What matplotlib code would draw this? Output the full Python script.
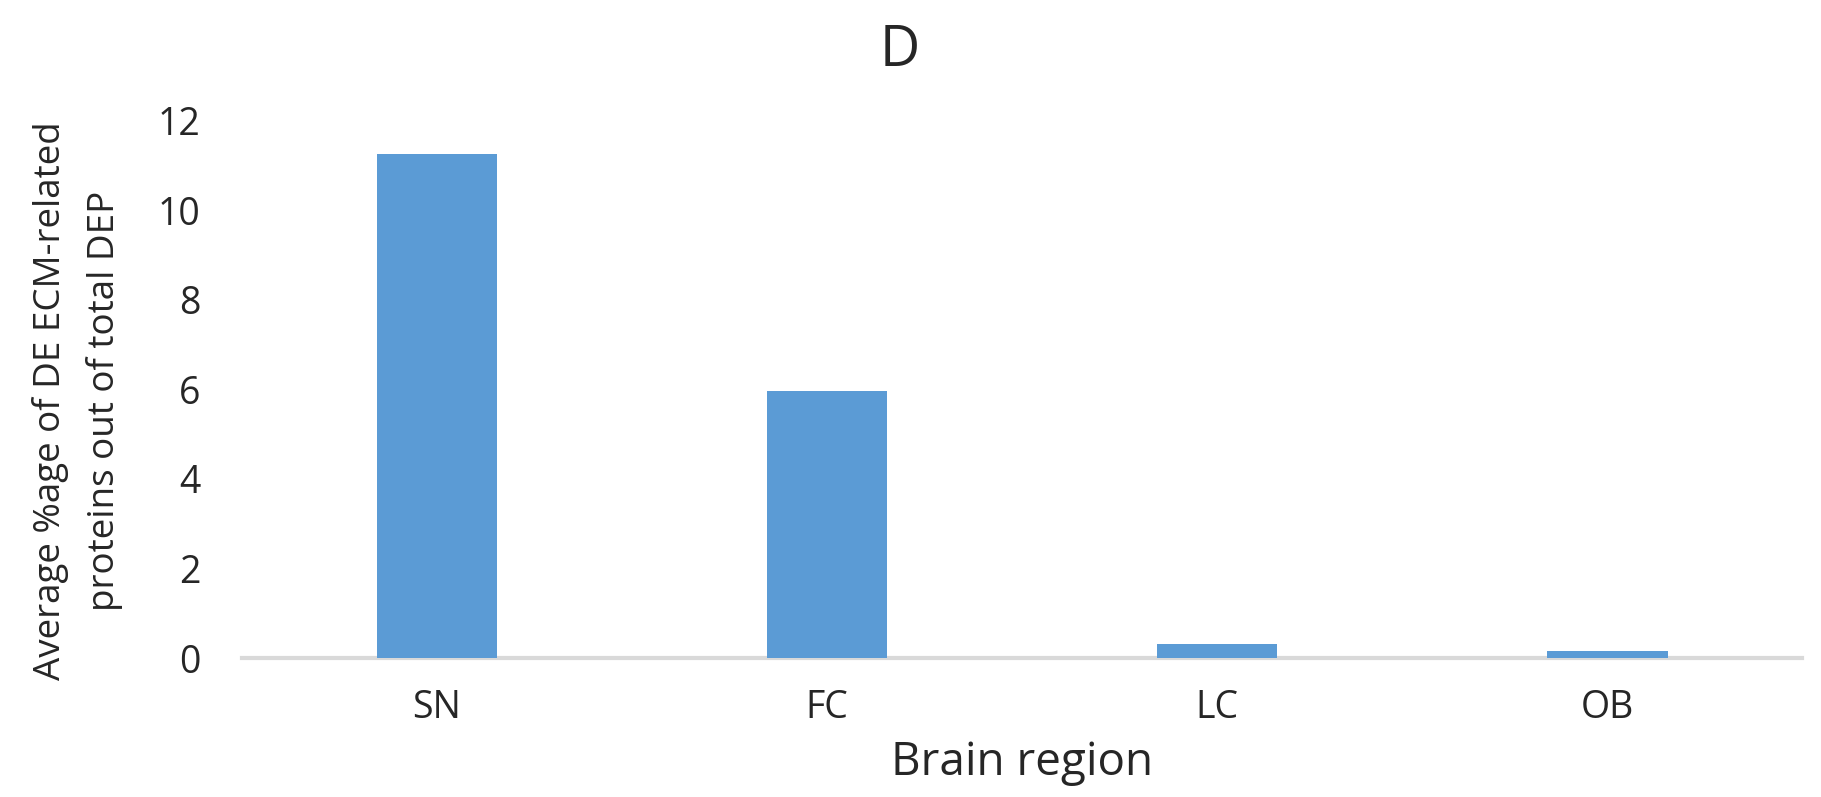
import matplotlib
matplotlib.use("Agg")
import matplotlib.pyplot as plt
import numpy as np

# --- data ---
regions = ["SN", "FC", "LC", "OB"]
avg_pct = [11.26, 5.97, 0.31, 0.16]
y_ticks = [0, 2, 4, 6, 8, 10, 12]

bar_color = "#5B9BD5"
axis_gray = "#D9D9D9"
text_col = "#262626"

plt.rcParams["font.family"] = ["Open Sans", "DejaVu Sans"]

fig = plt.figure(figsize=(18.21, 7.97), dpi=100)
ax = fig.add_axes([0.1329, 0.1744, 0.8567, 0.6738])

x = np.arange(len(regions))
ax.bar(x, avg_pct, width=0.31, color=bar_color, zorder=3)

ax.set_xlim(-0.5, len(regions) - 0.5)
ax.set_ylim(0, 12)
ax.set_yticks(y_ticks)
ax.set_xticks(x)
ax.set_xticklabels(regions)

for side in ["top", "right", "left"]:
    ax.spines[side].set_visible(False)
ax.spines["bottom"].set_color(axis_gray)
ax.spines["bottom"].set_linewidth(3)
ax.spines["bottom"].set_zorder(2)

ax.tick_params(axis="y", length=0, pad=30, labelsize=27, labelcolor=text_col)
ax.tick_params(axis="x", length=0, pad=22, labelsize=27, labelcolor=text_col)

ax.set_xlabel("Brain region", fontsize=33, color=text_col, labelpad=10)

# two-line y label, placed by hand like the original
fig.text(0.0425, 0.497, "Average %age of DE ECM-related\nproteins out of total DEP",
         rotation=90, ha="center", va="center", fontsize=26.5, color=text_col,
         linespacing=1.6)

fig.text(0.494, 0.936, "D", ha="center", va="center", fontsize=40, color=text_col)

fig.savefig("out.png", dpi=100, facecolor="white")
